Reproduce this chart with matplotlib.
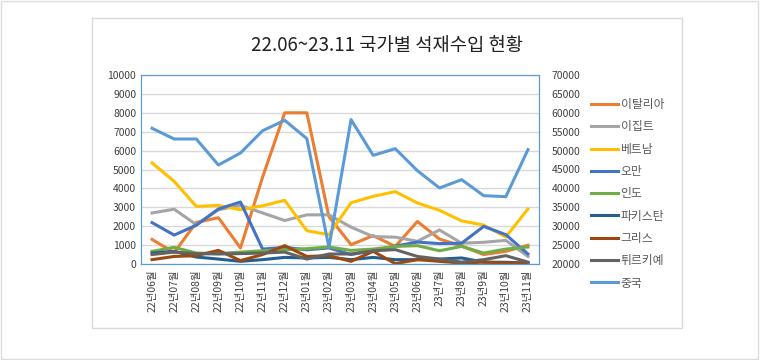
import numpy as np
import matplotlib
matplotlib.use('Agg')
import matplotlib.patches as ptch
from matplotlib import pyplot as plt

plt.rcParams['font.family'] = ['Noto Sans CJK KR', 'DejaVu Sans']

months = ['22년06월', '22년07월', '22년08월', '22년09월', '22년10월', '22년11월',
          '22년12월', '23년01월', '23년02월', '23년03월', '23년04월', '23년05월',
          '23년06월', '23년7월', '23년8월', '23년9월', '23년10월', '23년11월']

italy    = [1300, 600, 2200, 2450, 850, 4600, 8000, 8000, 2500, 1020, 1500, 930, 2250, 1320, 950, 500, 670, 990]
egypt    = [2700, 2900, 2080, 2870, 3100, 2700, 2300, 2600, 2600, 1950, 1450, 1420, 1200, 1800, 1100, 1150, 1250, 400]
vietnam  = [5350, 4370, 3050, 3100, 2870, 3080, 3370, 1760, 1550, 3240, 3580, 3830, 3230, 2840, 2280, 2060, 1430, 2910]
oman     = [2190, 1530, 2050, 2910, 3280, 790, 880, 750, 850, 500, 700, 950, 1160, 1080, 1100, 1990, 1550, 530]
india    = [670, 880, 580, 550, 630, 700, 760, 810, 900, 720, 790, 930, 970, 700, 930, 580, 790, 900]
pakistan = [580, 670, 370, 260, 140, 230, 350, 320, 350, 230, 350, 230, 230, 260, 320, 100, 90, 50]
greece   = [230, 400, 440, 720, 180, 500, 970, 400, 440, 140, 670, 20, 230, 140, 50, 100, 50, 50]
turkey   = [500, 630, 550, 530, 550, 580, 630, 260, 530, 530, 700, 760, 400, 260, 100, 230, 440, 100]
china    = [55900, 53070, 53070, 46190, 49370, 55270, 58010, 53160, 24410, 58190, 48750, 50510,
            44690, 40110, 42310, 38080, 37810, 50250]

primary = [('이탈리아', italy, '#ED7D31'), ('이집트', egypt, '#A5A5A5'),
           ('베트남', vietnam, '#FFC000'), ('오만', oman, '#4472C4'),
           ('인도', india, '#70AD47'), ('파키스탄', pakistan, '#255E91'),
           ('그리스', greece, '#9E480E'), ('튀르키예', turkey, '#636363')]

fig = plt.figure(figsize=(7.6, 3.6), dpi=100)
fig.patches.append(ptch.Rectangle((0.001, 0.002), 0.997, 0.995, transform=fig.transFigure,
                                  fill=False, edgecolor='#DDDDDD', lw=1.0))
fig.patches.append(ptch.Rectangle((92/760, 1-328/360), 590/760, 310/360, transform=fig.transFigure,
                                  fill=False, edgecolor='#D9D9D9', lw=1.0))

ax = fig.add_axes([141/760, 1-264/360, 398/760, 189/360])
x = np.arange(len(months))
handles = []
for name, vals, col in primary:
    h, = ax.plot(x, vals, color=col, lw=2.2, label=name, solid_joinstyle='round')
    handles.append(h)

ax.set_xlim(-0.5, len(months)-0.5)
ax.set_ylim(0, 10000)
ax.set_yticks(np.arange(0, 10001, 1000))
ax.grid(axis='y', color='#D9D9D9', lw=1.0)
ax.set_axisbelow(True)
ax.set_xticks(x)
ax.set_xticklabels(months, rotation=90, fontsize=7.5, color='#404040')
ax.tick_params(axis='both', length=0, labelsize=7.5, labelcolor='#404040')
ax.tick_params(axis='x', pad=4)

# 중국은 물량이 커서 보조축으로
ax2 = ax.twinx()
h, = ax2.plot(x, china, color='#5B9BD5', lw=2.2, label='중국', solid_joinstyle='round')
handles.append(h)
ax2.set_ylim(20000, 70000)
ax2.set_yticks(np.arange(20000, 70001, 5000))
ax2.tick_params(axis='y', length=0, labelsize=7.5, labelcolor='#404040', pad=9)
for a in (ax, ax2):
    for s in a.spines.values():
        s.set_color('#5B9BD5')
        s.set_linewidth(0.8)

fig.text(387/760, 1-45/360, '22.06~23.11 국가별 석재수입 현황', ha='center', va='center',
         fontsize=13.5, color='#222222')

fig.legend(handles=handles, loc='upper left', bbox_to_anchor=(591/760, 1-98/360),
           frameon=False, fontsize=8.5, labelcolor='#595959', labelspacing=0.79,
           handlelength=2.3, handletextpad=0.2, borderpad=0, borderaxespad=0)

fig.savefig('out.png', dpi=100)
